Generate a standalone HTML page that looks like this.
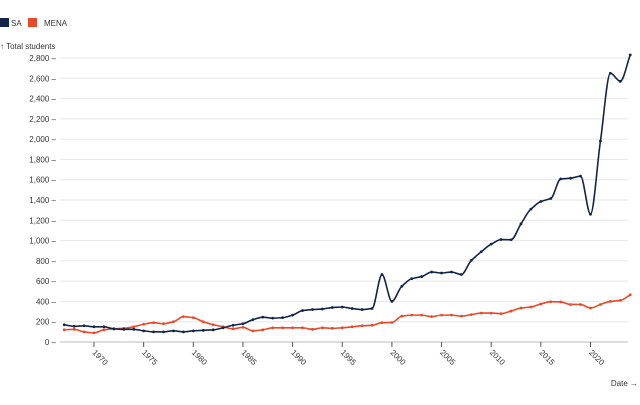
<!DOCTYPE html>
<html><head><meta charset="utf-8"><style>
body{margin:0;background:#fff;font-family:"Liberation Sans",sans-serif}
svg text{font-family:"Liberation Sans",sans-serif;font-size:8px;fill:#333}
</style></head><body>
<svg id="chart" width="640" height="400">
<g>
<rect x="0" y="18" width="9" height="9" fill="#14254a"/>
<text x="11" y="26">SA</text>
<rect x="28" y="18" width="9" height="9" fill="#e8492a"/>
<text x="44" y="26">MENA</text>
</g>
<text x="0" y="49">↑ Total students</text>
<text x="638" y="386" text-anchor="end">Date →</text>
<g id="grid"></g><g id="yax"></g><g id="xax"></g><g id="series"></g>
</svg>
<script>
const years=[];for(let y=1967;y<=2024;y++)years.push(y);
const saValues=[170,155,160,150,150,130,125,125,110,100,100,110,100,110,115,120,140,165,180,220,245,235,240,265,310,320,325,340,345,330,320,330,665,400,550,625,645,690,680,690,665,805,890,965,1010,1008,1165,1310,1385,1415,1608,1615,1635,1260,1980,2650,2570,2830];
const menaValues=[120,125,100,90,120,130,135,150,175,190,180,200,250,240,200,170,150,130,145,110,120,140,140,140,140,125,140,135,140,150,160,165,190,192,255,265,265,250,265,265,255,270,285,285,280,305,335,345,375,397,395,370,370,335,370,400,410,465];
const yTicks=[0,200,400,600,800,1000,1200,1400,1600,1800,2000,2200,2400,2600,2800];
const xTicks=[1970,1975,1980,1985,1990,1995,2000,2005,2010,2015,2020];
const X=v=>94+(v-1970)*9.93;
const Y=v=>342-v*(284/2800);
const NS="http://www.w3.org/2000/svg";
function mk(t,a,p){const e=document.createElementNS(NS,t);for(const k in a)e.setAttribute(k,a[k]);p.appendChild(e);return e;}
const grid=document.getElementById('grid'),yax=document.getElementById('yax'),xax=document.getElementById('xax'),ser=document.getElementById('series');
yTicks.forEach(v=>{
 const l=mk('line',{x1:60,x2:628,y1:Y(v),y2:Y(v),stroke:v===0?'#bbb':'#e6e6e6','stroke-width':1},grid);
 
 
 const t=mk('text',{x:56,y:Y(v)+3,'text-anchor':'end'},yax);
 t.textContent=v.toLocaleString('en-US')+' –';
 
 
});
xTicks.forEach(v=>{
 const l=mk('line',{x1:X(v),x2:X(v),y1:342,y2:347,stroke:'#555'},xax);
 
 
 const t=mk('text',{x:X(v)-2,y:353,transform:`rotate(45 ${X(v)-2} 353)`},xax);
 t.textContent=v;
 
 
});
function path(vals){
 const p=vals.map((v,i)=>[X(years[i]),Y(v)]);
 const n=p.length,s=[],m=[];
 for(let i=0;i<n-1;i++)s.push((p[i+1][1]-p[i][1])/(p[i+1][0]-p[i][0]));
 for(let i=0;i<n;i++){
  if(i===0)m.push(s[0]);else if(i===n-1)m.push(s[n-2]);
  else{const a=s[i-1],b=s[i];m.push(a*b<=0?0:(Math.sign(a)*Math.min(Math.abs(a),Math.abs(b),0.5*Math.abs(a+b))));}
 }
 let d=`M${p[0][0]},${p[0][1]}`;
 for(let i=0;i<n-1;i++){
  const h=(p[i+1][0]-p[i][0])/3;
  d+=`C${p[i][0]+h},${p[i][1]+m[i]*h} ${p[i+1][0]-h},${p[i+1][1]-m[i+1]*h} ${p[i+1][0]},${p[i+1][1]}`;
 }
 return [d,p];
}
[[menaValues,'#e8492a','mena'],[saValues,'#14254a','sa']].forEach(([vals,c,n])=>{
 const [d,p]=path(vals);
 const l=mk('path',{d:d,fill:'none',stroke:c,'stroke-width':1.6},ser);
 
 
 p.forEach((q,i)=>{
  const c2=mk('circle',{cx:q[0],cy:q[1],r:1.4,fill:c},ser);
  
  
 });
});
</script>
</body></html>
